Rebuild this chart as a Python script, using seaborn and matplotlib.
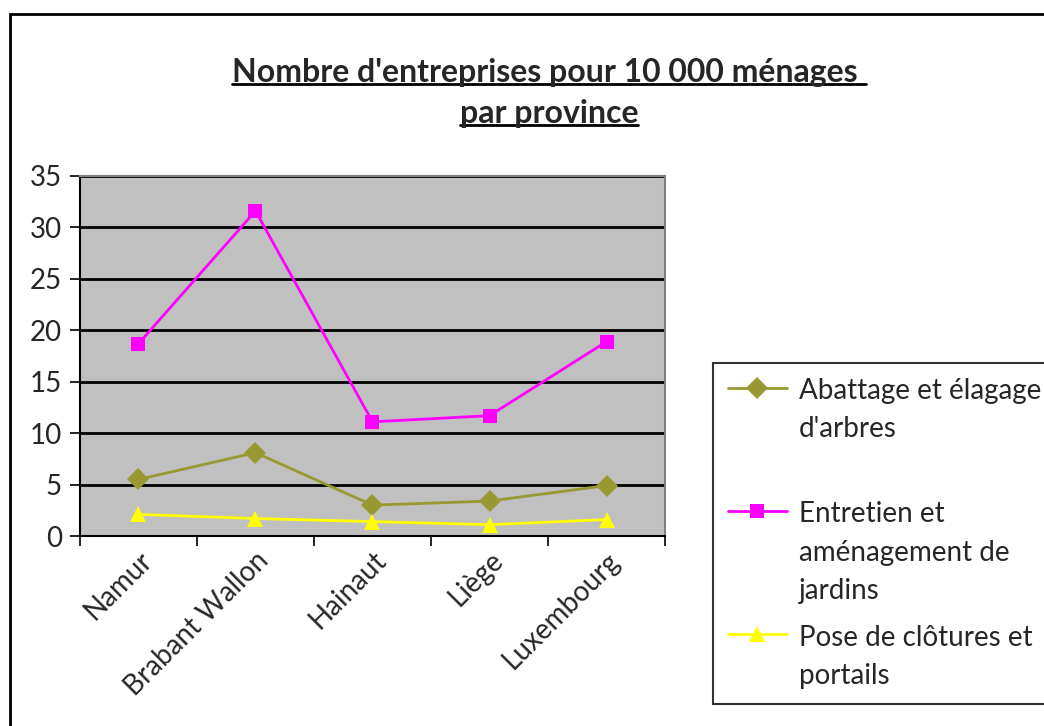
import pandas as pd
import numpy as np
import matplotlib.pyplot as plt
import seaborn as sns
from matplotlib.patches import Rectangle
from matplotlib.lines import Line2D

provinces = ["Namur", "Brabant Wallon", "Hainaut", "Liège", "Luxembourg"]
abattage = [5.5, 8.1, 3.0, 3.4, 4.9]
entretien = [18.7, 31.6, 11.1, 11.7, 18.9]
clotures = [2.1, 1.7, 1.4, 1.1, 1.6]

series_names = ["Abattage et élagage\nd'arbres",
                "Entretien et\naménagement de\njardins",
                "Pose de clôtures et\nportails"]
title_lines = ["Nombre d'entreprises pour 10 000 ménages ", "par province"]

df = pd.DataFrame({
    "province": provinces * 3,
    "valeur": abattage + entretien + clotures,
    "serie": [series_names[0]] * 5 + [series_names[1]] * 5 + [series_names[2]] * 5,
})

sns.set_style("white")
plt.rcParams["font.family"] = ["Lato", "DejaVu Sans"]

fig = plt.figure(figsize=(10.44, 7.26), dpi=100)
ax = fig.add_axes([0.0766, 0.2617, 0.5604, 0.4959])
ax.set_facecolor("#C0C0C0")

palette = {series_names[0]: "#999933", series_names[1]: "#FF00FF", series_names[2]: "#FFFF00"}
markers = {series_names[0]: "D", series_names[1]: "s", series_names[2]: "^"}
sizes_mk = {series_names[0]: 11, series_names[1]: 10, series_names[2]: 11}

for name in series_names:
    sub = df[df["serie"] == name]
    sns.lineplot(data=sub, x="province", y="valeur", ax=ax, color=palette[name],
                 marker=markers[name], markersize=sizes_mk[name], markeredgewidth=0,
                 linewidth=2, sort=False, zorder=3)

ax.set_xlim(-0.5, len(provinces) - 0.5)
ax.set_ylim(0, 35)
ax.set_yticks(np.arange(0, 36, 5))
ax.yaxis.grid(True, color="black", linewidth=2, zorder=1)
ax.set_axisbelow(True)
ax.set_xlabel("")
ax.set_ylabel("")

ax.set_xticks(range(len(provinces)))
ax.set_xticklabels(provinces, rotation=45, ha="right", rotation_mode="anchor", fontsize=20)
ax.set_xticks(np.arange(-0.5, len(provinces), 1), minor=True)
ax.tick_params(axis="x", which="major", length=0, pad=8)
ax.tick_params(axis="x", which="minor", length=7, width=1.2, color="black", direction="out", bottom=True)
ax.tick_params(axis="y", length=7, width=1.2, color="black", direction="out", left=True,
               labelsize=20, pad=6)

for side in ["left", "bottom"]:
    ax.spines[side].set_color("black")
    ax.spines[side].set_linewidth(1.5)
for side in ["top", "right"]:
    ax.spines[side].set_color("#808080")
    ax.spines[side].set_linewidth(1.5)

# légende à droite, symbole aligné sur la première ligne
legend_labels = [series_names[0] + "\n", series_names[1], series_names[2]]
handles = [Line2D([], [], color=palette[n], marker=markers[n], markersize=sizes_mk[n],
                  markeredgewidth=0, linewidth=2) for n in series_names]
leg = fig.legend(handles, legend_labels, loc="upper left", bbox_to_anchor=(0.683, 0.5),
                 frameon=True, fancybox=False, edgecolor="black", fontsize=20,
                 handlelength=2.1, handletextpad=0.45, labelspacing=0.75,
                 borderpad=0.55, borderaxespad=0)
leg.get_frame().set_linewidth(1.5)
for txt in leg.get_texts():
    txt.set_linespacing(1.58)
for col in leg._legend_handle_box.get_children():
    for item in col.get_children():
        item.align = "top"

# titre souligné
t1 = fig.text(0.526, 0.90, title_lines[0], ha="center", va="center", fontsize=23, fontweight="bold")
t2 = fig.text(0.526, 0.844, title_lines[1], ha="center", va="center", fontsize=23, fontweight="bold")
fig.canvas.draw()
inv = fig.transFigure.inverted()
for t in (t1, t2):
    bb = t.get_window_extent()
    (x0, y0), (x1, y1) = inv.transform([[bb.x0, bb.y0], [bb.x1, bb.y1]])
    fig.add_artist(Line2D([x0, x1], [y0 + 0.004, y0 + 0.004], color="black", linewidth=2,
                          transform=fig.transFigure))

fig.patches.append(Rectangle((10 / 1044, -0.1), 1.2, 1 - 14 / 726 + 0.1, transform=fig.transFigure,
                             fill=False, edgecolor="black", linewidth=2))

fig.savefig("out.png", dpi=100)
